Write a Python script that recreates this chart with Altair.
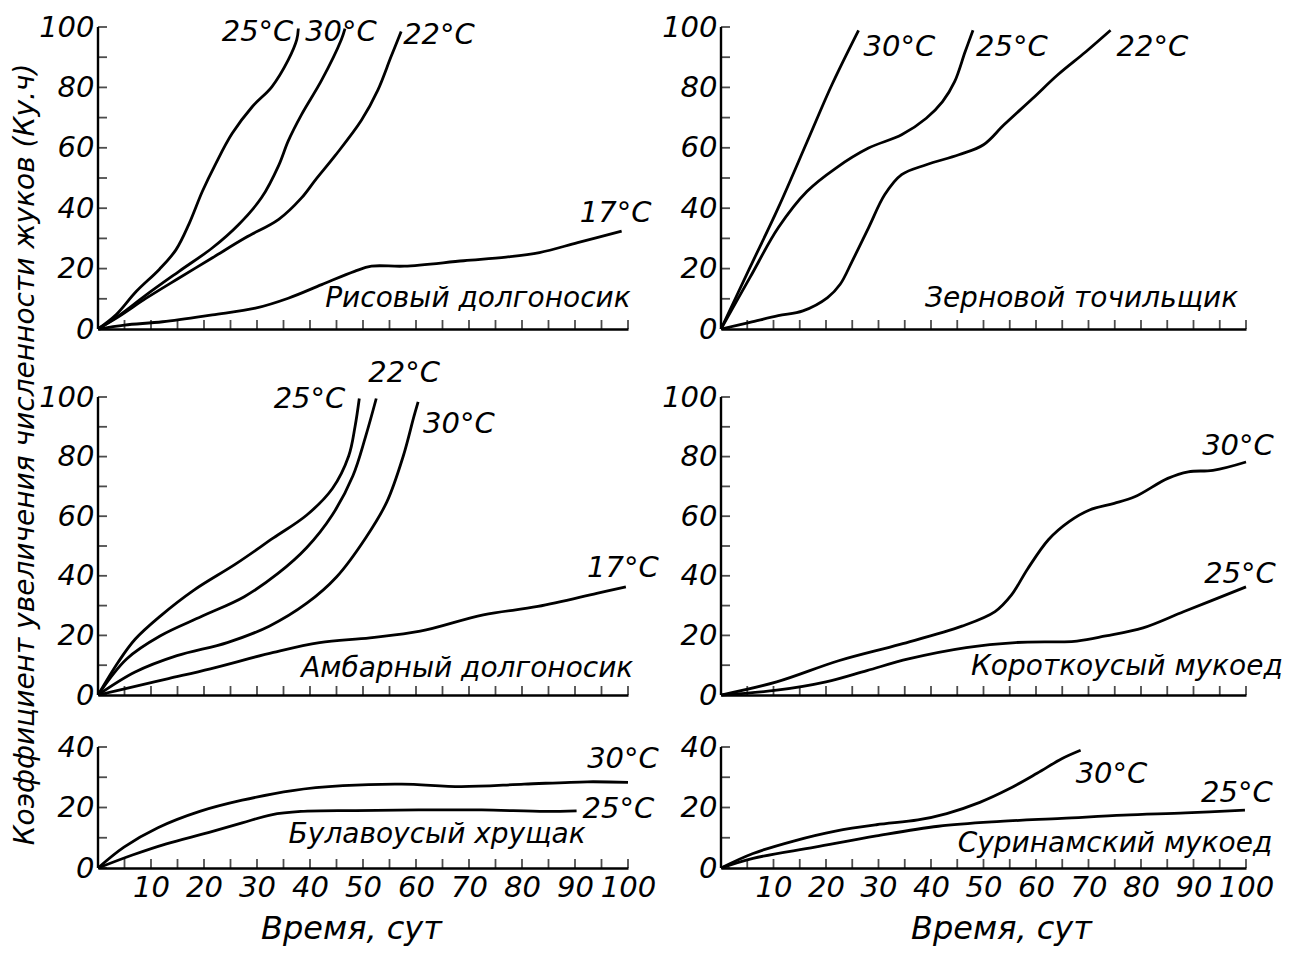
import altair as alt
import pandas as pd

FONT = "DejaVu Sans"
INK = "black"

# ---------------- data ----------------
# Рисовый долгоносик
rice_25_days = [0, 3.4, 7.2, 11.6, 14.7, 17.2, 19.7, 22.2, 25.3, 29.1, 32.8, 35.9, 37.5, 37.8]
rice_25_k = [0, 4.7, 12.4, 19.8, 26.2, 34.9, 45.6, 54.7, 64.7, 73.6, 80.2, 89.1, 95.8, 99.5]
rice_30_days = [0, 4, 9.1, 15.3, 21.6, 26.6, 30.9, 34.1, 35.9, 38.4, 42.2, 45.9, 46.6]
rice_30_k = [0, 4.5, 11.3, 19.1, 26.9, 34.7, 43.6, 54.2, 62.3, 71.0, 82.4, 95.8, 99.5]
rice_22_days = [0, 4, 9.1, 15.3, 21.6, 27.8, 34.1, 38.4, 41, 44.7, 49.7, 52.8, 55.3, 57.2]
rice_22_k = [0, 4.2, 10.2, 16.9, 23.6, 30.2, 36.3, 43.4, 49.3, 57.3, 69.1, 79.1, 90.2, 98.5]
rice_17_days = [0, 5, 12.2, 21.6, 29.7, 35.9, 42.2, 48.4, 51.6, 57.8, 69, 77, 83.3, 90.5, 98.8]
rice_17_k = [0, 1.3, 2.4, 4.7, 6.9, 10.2, 14.7, 19.1, 20.8, 20.8, 22.6, 23.8, 25.3, 28.6, 32.4]

# Зерновой точильщик
grain_30_days = [0, 5.5, 10.9, 16.4, 21.1, 26.2]
grain_30_k = [0, 20.3, 40.1, 62, 80.8, 98.9]
grain_25_days = [0, 5.5, 10.9, 16.4, 21.9, 28.1, 34.4, 39.1, 42.2, 44.5, 46.5, 48]
grain_25_k = [0, 17, 33.5, 45.6, 53.3, 59.9, 64.3, 69.8, 75.3, 81.9, 91.8, 98.9]
grain_22_days = [0, 5.5, 10.9, 15.6, 20.3, 22.7, 25, 28.1, 31.2, 34.4, 39.1, 45.3, 50, 53.9, 59.4, 64.1, 69.5, 74.2]
grain_22_k = [0, 2.2, 4.4, 6, 10.4, 14.8, 22.5, 33.5, 44.5, 51.1, 54.4, 57.7, 61, 67.6, 76.4, 84.1, 91.8, 98.9]

# Амбарный долгоносик
barn_25_days = [0, 3.8, 7, 11.7, 18.1, 26, 33.1, 39.4, 44.2, 47.3, 48.5, 49.3]
barn_25_k = [0, 11, 18.7, 26.4, 35.2, 44, 52.7, 60.4, 69.2, 80.2, 90.1, 99.5]
barn_22_days = [0, 5.4, 11.7, 19.6, 27.6, 33.9, 39.4, 44.2, 48.1, 50.5, 52.5]
barn_22_k = [0, 12.1, 19.8, 26.4, 33, 40.7, 49.5, 60.4, 73.6, 86.8, 99.5]
barn_30_days = [0, 7, 14.9, 24.4, 32.3, 39.4, 45, 50.5, 54.5, 57.6, 59.6, 60.4]
barn_30_k = [0, 7.7, 13.2, 17.6, 23.1, 30.8, 39.6, 52.7, 64.8, 80.2, 93.4, 98.4]
barn_17_days = [0, 5.4, 13.3, 21.2, 33.1, 41.8, 51.3, 60.8, 72.7, 83, 94.1, 99.6]
barn_17_k = [0, 2.2, 5.5, 8.8, 14.3, 17.6, 19.2, 21.4, 26.9, 29.7, 34.1, 36.3]

# Короткоусый мукоед
short_30_days = [0, 10.6, 22.4, 34.1, 45.9, 52.2, 55.3, 58.4, 62.4, 66.3, 70.2, 74.9, 78.8, 85.1, 89, 93.7, 100]
short_30_k = [0, 4.4, 11.5, 17, 23.1, 28, 33.5, 42.3, 52.2, 58.2, 62.1, 64.3, 66.5, 72.7, 74.9, 75.4, 78.2]
short_25_days = [0, 10.6, 20, 27.8, 35.7, 46.7, 56.1, 67.8, 73.3, 80.4, 88.2, 100]
short_25_k = [0, 1.6, 4.4, 8.2, 12.1, 15.9, 17.6, 18.1, 19.8, 22.5, 28, 36.3]

# Булавоусый хрущак
club_30_days = [0, 4.9, 11.3, 19.2, 27.2, 36.7, 46.2, 57.3, 68.5, 80.4, 92.3, 100]
club_30_k = [0, 6.9, 13.3, 18.7, 22.4, 25.6, 27.2, 27.7, 26.9, 27.7, 28.5, 28.3]
club_25_days = [0, 6.5, 12.9, 20.8, 27.2, 32.7, 38.3, 48.6, 60.5, 72.4, 84.4, 90.3]
club_25_k = [0, 4.3, 8, 11.7, 14.9, 17.6, 18.7, 19, 19.2, 19.2, 18.7, 18.9]

# Суринамский мукоед
sur_30_days = [0, 6.1, 14, 21.8, 29.6, 37.5, 43, 49.3, 54.7, 60.2, 64.9, 68.5]
sur_30_k = [0, 4.8, 9, 12.2, 14.3, 15.9, 18, 21.7, 26, 31.3, 36.1, 38.9]
sur_25_days = [0, 6.1, 17.9, 29.6, 41.4, 53.2, 64.9, 76.7, 88.5, 99.8]
sur_25_k = [0, 3.2, 6.9, 10.6, 13.8, 15.4, 16.4, 17.5, 18.2, 19.1]

x_tick_values = list(range(5, 101, 5))
x_label_values = list(range(10, 101, 10))
y_tick_values_100 = list(range(0, 101, 10))
y_label_values_100 = list(range(0, 101, 20))
y_tick_values_40 = list(range(0, 41, 10))
y_label_values_40 = list(range(0, 41, 20))

X_TITLE = "Время, сут"
Y_TITLE = "Коэффициент увеличения численности жуков (Ку.ч)"


def panel(curves, species, species_pos, ymax, width, height, bottom,
          ytitle=False, extra=0, xtitle_x=None):
    # extra: pixels of empty room above the top of the y axis
    top_val = ymax * (height + extra) / height
    xs = alt.Scale(domain=[0, 100], nice=False, zero=True)
    ys = alt.Scale(domain=[0, top_val], nice=False, zero=True)
    yt = y_tick_values_100 if ymax == 100 else y_tick_values_40
    yl = y_label_values_100 if ymax == 100 else y_label_values_40

    rows = []
    for name, days, ks, *_ in curves:
        for d, k in zip(days, ks):
            rows.append({"series": name, "day": d, "k": k})
    df = pd.DataFrame(rows)

    xaxis_kw = dict(values=x_label_values, labels=bottom, ticks=False,
                    grid=False, domain=True, domainColor=INK,
                    domainWidth=2.4, title=X_TITLE if bottom else None,
                    labelPadding=5, titlePadding=11)
    if xtitle_x is not None:
        xaxis_kw["titleX"] = xtitle_x
    xaxis = alt.Axis(**xaxis_kw)
    yaxis_kw = dict(values=yl, ticks=False, grid=False, domain=False,
                    labelPadding=4)
    if ytitle:
        yaxis = alt.Axis(title=Y_TITLE, titleX=-73, titleY=73,
                         titleAlign="center", titleBaseline="middle",
                         titleAngle=270, titleFontSize=28, **yaxis_kw)
    else:
        yaxis = alt.Axis(title=None, **yaxis_kw)

    X = lambda: alt.X("day:Q", scale=xs)
    Y = lambda: alt.Y("k:Q", scale=ys)

    lines = alt.Chart(df).mark_line(
        interpolate="catmull-rom", color=INK, strokeWidth=2.8, clip=False
    ).encode(
        x=alt.X("day:Q", scale=xs, axis=xaxis),
        y=alt.Y("k:Q", scale=ys, axis=yaxis),
        detail="series:N",
    )

    # y axis line (0 .. ymax)
    yline = alt.Chart(pd.DataFrame({"day": [0], "k": [0], "k2": [ymax]})).mark_rule(
        color=INK, strokeWidth=2.4
    ).encode(x=X(), y=Y(), y2="k2:Q")

    xt = alt.Chart(pd.DataFrame({"day": x_tick_values,
                                 "k": [0] * len(x_tick_values)})).mark_tick(
        orient="vertical", color=INK, size=9, thickness=1.8, yOffset=-4.5
    ).encode(x=X(), y=Y())

    ytk = alt.Chart(pd.DataFrame({"k": yt, "day": [0] * len(yt)})).mark_tick(
        orient="horizontal", color=INK, size=9, thickness=1.8, xOffset=4.5
    ).encode(x=X(), y=Y())

    layers = [lines, yline, xt, ytk]

    for name, days, ks, align, dx, dy in curves:
        lab = pd.DataFrame({"day": [days[-1]], "k": [ks[-1]], "t": [name]})
        layers.append(
            alt.Chart(lab).mark_text(
                align=align, baseline="middle", dx=dx, dy=dy, font=FONT,
                fontSize=29, fontStyle="italic", color=INK
            ).encode(x=X(), y=Y(), text="t:N")
        )

    sp = pd.DataFrame({"day": [species_pos[0]], "k": [species_pos[1]],
                       "t": [species]})
    layers.append(
        alt.Chart(sp).mark_text(
            align="right", baseline="middle", font=FONT, fontSize=28,
            fontStyle="italic", color=INK
        ).encode(x=X(), y=Y(), text="t:N")
    )
    return alt.layer(*layers).properties(width=width, height=height + extra)


tl = panel(
    [("25°C", rice_25_days, rice_25_k, "right", -5, 3),
     ("30°C", rice_30_days, rice_30_k, "center", -4, 3),
     ("22°C", rice_22_days, rice_22_k, "left", 2, 3),
     ("17°C", rice_17_days, rice_17_k, "center", -6, -18)],
    "Рисовый долгоносик", (100.5, 10), 100, 530, 302, False)

tr = panel(
    [("30°C", grain_30_days, grain_30_k, "left", 5, 17),
     ("25°C", grain_25_days, grain_25_k, "left", 3, 17),
     ("22°C", grain_22_days, grain_22_k, "left", 6, 17)],
    "Зерновой точильщик", (98.5, 10), 100, 525, 302, False)

ml = panel(
    [("25°C", barn_25_days, barn_25_k, "right", -14, 1),
     ("22°C", barn_22_days, barn_22_k, "left", -8, -25),
     ("30°C", barn_30_days, barn_30_k, "left", 5, 22),
     ("17°C", barn_17_days, barn_17_k, "center", -3, -19)],
    "Амбарный долгоносик", (101, 8.8), 100, 530, 298, False, ytitle=True,
    extra=16)

mr = panel(
    [("30°C", short_30_days, short_30_k, "center", -8, -16),
     ("25°C", short_25_days, short_25_k, "center", -6, -13)],
    "Короткоусый мукоед", (107, 9.4), 100, 525, 298, False, extra=16)

bl = panel(
    [("30°C", club_30_days, club_30_k, "center", -5, -23),
     ("25°C", club_25_days, club_25_k, "left", 6, -2)],
    "Булавоусый хрущак", (92, 11), 40, 530, 121, True, xtitle_x=253)

br = panel(
    [("30°C", sur_30_days, sur_30_k, "left", -5, 24),
     ("25°C", sur_25_days, sur_25_k, "center", -8, -17)],
    "Суринамский мукоед", (105, 8), 40, 525, 121, True, xtitle_x=280)

chart = alt.concat(
    tl, tr, ml, mr, bl, br, columns=2,
    spacing={"row": 52, "column": 93}, bounds="flush", align="each",
).configure_view(
    stroke=None
).configure_axis(
    labelFont=FONT, labelFontSize=29, labelFontStyle="italic",
    labelColor=INK, titleFont=FONT, titleFontSize=32,
    titleFontStyle="italic", titleFontWeight="normal", titleColor=INK,
    labelFlush=False, labelOverlap=False,
).properties(
    padding={"left": 2, "top": 5, "right": 5, "bottom": 5},
    background="white",
)

chart.save("out.html", embed_options={"renderer": "svg", "actions": False})
